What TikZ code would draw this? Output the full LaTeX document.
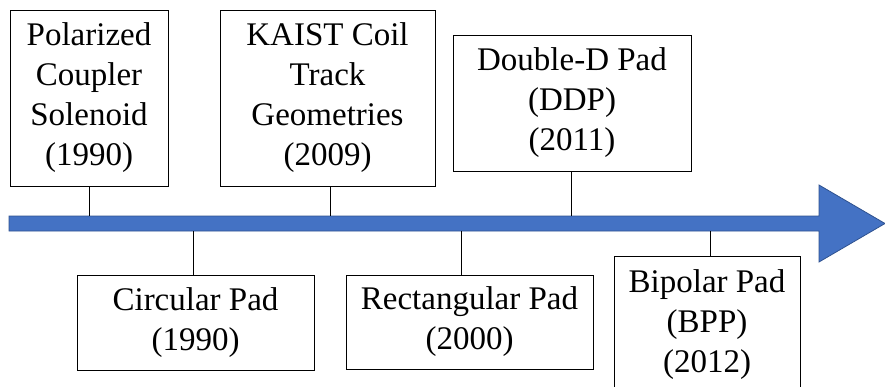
\documentclass[tikz,border=0pt]{standalone}
\usepackage{fontspec}
\setmainfont{Liberation Serif}
\definecolor{tl blue}{HTML}{4472C4}
\definecolor{tl edge}{HTML}{2F528F}
\tikzset{
    tl box/.style={draw=black, line width=1pt, fill=white, align=center,
                   inner sep=0pt, font=\fontsize{33}{40}\selectfont},
    tl stem/.style={black, line width=1pt},
    tl arrow/.style={fill=tl blue, draw=tl edge, line width=0.8pt},
}

\begin{document}
\begin{tikzpicture}[x=1pt, y=-1pt]
    \clip (0,0) rectangle (885,386);
    % Timeline arrow
    \draw[tl arrow] (9,216) -- (819,216) -- (819,185) -- (885,223.5)
        -- (819,262) -- (819,231) -- (9,231) -- cycle;
    \coordinate (top) at (0,216);
    \coordinate (bot) at (0,231);
    % Entries above the line
    \node[tl box, minimum width=158pt, minimum height=176pt] (pcs) at (89,98)
        {Polarized\\Coupler\\Solenoid\\(1990)};
    \node[tl box, minimum width=215pt, minimum height=176pt] (kaist) at (327.5,98)
        {KAIST Coil\\Track\\Geometries\\(2009)};
    \node[tl box, minimum width=238pt, minimum height=136pt] (ddp) at (572,103)
        {Double-D Pad\\(DDP)\\(2011)};
    % Entries below the line
    \node[tl box, minimum width=237pt, minimum height=95pt] (circ) at (195.5,322.5)
        {Circular Pad\\(1990)};
    \node[tl box, minimum width=247pt, minimum height=94pt] (rect) at (469.5,322)
        {Rectangular Pad\\(2000)};
    \node[tl box, minimum width=186pt, minimum height=138pt] (bpp) at (707,325)
        {Bipolar Pad\\(BPP)\\(2012)};
    % Stems
    \draw[tl stem] (pcs.south) -- (pcs.south |- top);
    \draw[tl stem] ([xshift=2.5pt]kaist.south) -- ([xshift=2.5pt]kaist.south |- top);
    \draw[tl stem] ([xshift=-1pt]ddp.south) -- ([xshift=-1pt]ddp.south |- top);
    \draw[tl stem] ([xshift=-2.5pt]circ.north) -- ([xshift=-2.5pt]circ.north |- bot);
    \draw[tl stem] ([xshift=-8.5pt]rect.north) -- ([xshift=-8.5pt]rect.north |- bot);
    \draw[tl stem] ([xshift=3pt]bpp.north) -- ([xshift=3pt]bpp.north |- bot);
\end{tikzpicture}
\end{document}
